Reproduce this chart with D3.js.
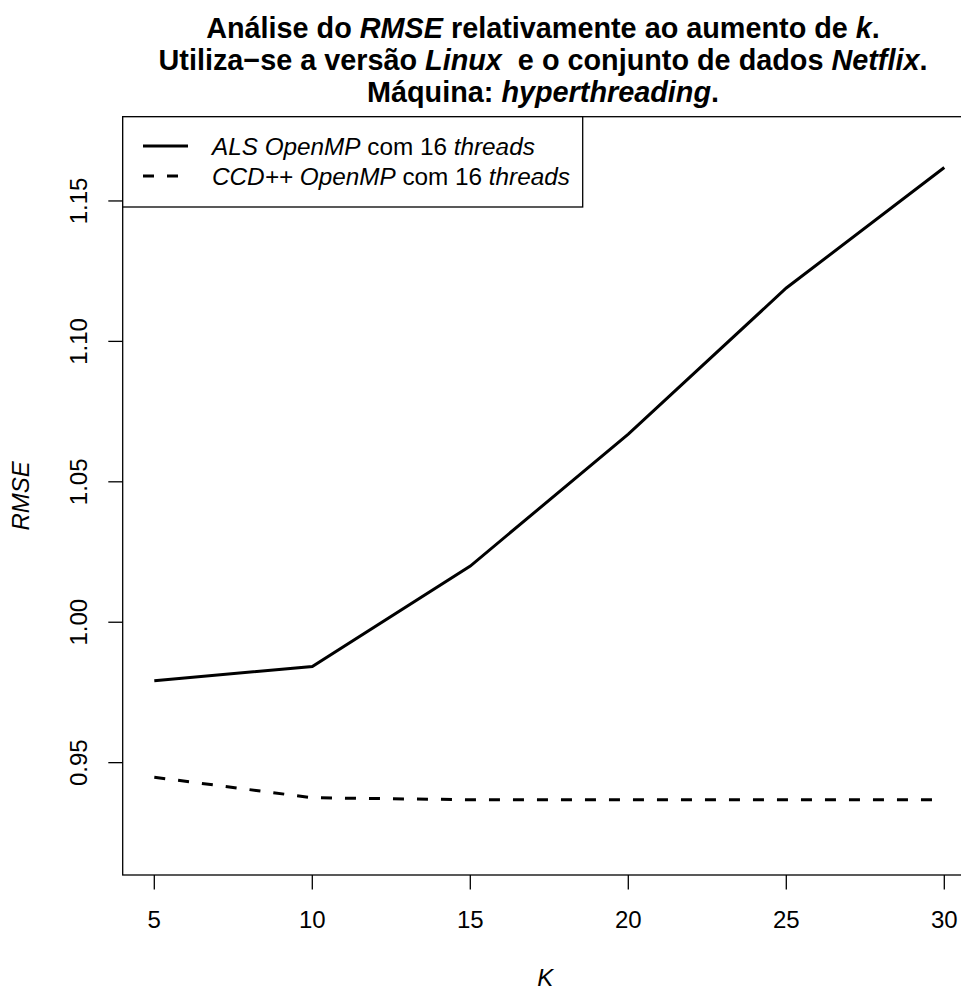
<!DOCTYPE html>
<html>
<head>
<meta charset="utf-8">
<script src="https://cdn.jsdelivr.net/npm/d3@7"></script>
<style>
  body { margin: 0; background: #fff; }
  svg { font-family: "Liberation Sans", Arial, sans-serif; }
  text { white-space: pre; }
</style>
</head>
<body>
<div id="chart"></div>
<script>
const width = 961;
const height = 990;

// values
const kValues = [5, 10, 15, 20, 25, 30];
const alsRmse = [0.9792, 0.9842, 1.0200, 1.0670, 1.1190, 1.1619];
const ccdRmse = [0.9448, 0.9375, 0.9368, 0.9368, 0.9368, 0.9368];
const xTicks = [5, 10, 15, 20, 25, 30];
const yTicks = [0.95, 1.00, 1.05, 1.10, 1.15];

// plot region (R style: box extends past the canvas on the right)
const plotLeft = 122.7, plotTop = 116.7, plotBottom = 875;
const xScale = d3.scaleLinear().domain([4, 31]).range([plotLeft, plotLeft + 27 * 31.6]);
const yScale = d3.scaleLinear().domain([0.91, 1.18]).range([plotBottom, plotTop]);
const plotRight = xScale.range()[1];

const svg = d3.select("#chart")
    .append("svg")
    .attr("width", width)
    .attr("height", height);

svg.append("rect")
    .attr("width", width)
    .attr("height", height)
    .attr("fill", "#fff");

// title lines, mixed regular / italic
const titleLines = [
    [["Análise do ", false], ["RMSE", true], [" relativamente ao aumento de ", false], ["k", true], [".", false]],
    [["Utiliza\u2212se a versão ", false], ["Linux", true], ["  e o conjunto de dados ", false], ["Netflix", true], [".", false]],
    [["Máquina: ", false], ["hyperthreading", true], [".", false]]
];
titleLines.forEach((parts, i) => {
    const t = svg.append("text")
        .attr("x", 543)
        .attr("y", 38 + i * 32)
        .attr("text-anchor", "middle")
        .attr("font-size", "28.8px")
        .attr("font-weight", "bold");
    parts.forEach(p => {
        t.append("tspan")
            .attr("font-style", p[1] ? "italic" : "normal")
            .text(p[0]);
    });
});

// axes
const xAxis = svg.append("g");
xAxis.selectAll("line")
    .data(xTicks)
    .enter()
    .append("line")
    .attr("x1", d => xScale(d))
    .attr("x2", d => xScale(d))
    .attr("y1", plotBottom)
    .attr("y2", plotBottom + 14.4)
    .attr("stroke", "#000")
    .attr("stroke-width", 1.3);
xAxis.selectAll("text")
    .data(xTicks)
    .enter()
    .append("text")
    .attr("x", d => xScale(d))
    .attr("y", 928)
    .attr("text-anchor", "middle")
    .attr("font-size", "24px")
    .text(d => d);

const yAxis = svg.append("g");
yAxis.selectAll("line")
    .data(yTicks)
    .enter()
    .append("line")
    .attr("x1", plotLeft - 14.4)
    .attr("x2", plotLeft)
    .attr("y1", d => yScale(d))
    .attr("y2", d => yScale(d))
    .attr("stroke", "#000")
    .attr("stroke-width", 1.3);
yAxis.selectAll("text")
    .data(yTicks)
    .enter()
    .append("text")
    .attr("transform", d => `translate(87, ${yScale(d)}) rotate(-90)`)
    .attr("text-anchor", "middle")
    .attr("font-size", "24px")
    .text(d => d.toFixed(2));

// axis titles
svg.append("text")
    .attr("x", (plotLeft + plotRight) / 2 - 4)
    .attr("y", 986)
    .attr("text-anchor", "middle")
    .attr("font-size", "24px")
    .attr("font-style", "italic")
    .text("K");

svg.append("text")
    .attr("transform", `translate(29, ${(plotTop + plotBottom) / 2}) rotate(-90)`)
    .attr("text-anchor", "middle")
    .attr("font-size", "24px")
    .attr("font-style", "italic")
    .text("RMSE");

// series
const line = d3.line()
    .x(d => xScale(d[0]))
    .y(d => yScale(d[1]));

svg.append("path")
    .datum(kValues.map((k, i) => [k, alsRmse[i]]))
    .attr("d", line)
    .attr("fill", "none")
    .attr("stroke", "#000")
    .attr("stroke-width", 3);

svg.append("path")
    .datum(kValues.map((k, i) => [k, ccdRmse[i]]))
    .attr("d", line)
    .attr("fill", "none")
    .attr("stroke", "#000")
    .attr("stroke-width", 3)
    .attr("stroke-dasharray", "11,13");

// plot box
svg.append("rect")
    .attr("x", plotLeft)
    .attr("y", plotTop)
    .attr("width", plotRight - plotLeft)
    .attr("height", plotBottom - plotTop)
    .attr("fill", "none")
    .attr("stroke", "#000")
    .attr("stroke-width", 1.3);

// legend
const legend = svg.append("g");
legend.append("rect")
    .attr("x", plotLeft)
    .attr("y", plotTop)
    .attr("width", 582.7 - plotLeft)
    .attr("height", 207 - plotTop)
    .attr("fill", "#fff")
    .attr("stroke", "#000")
    .attr("stroke-width", 1.3);

const legendItems = [
    { parts: [["ALS OpenMP", true], [" com 16 ", false], ["threads", true]], dash: null },
    { parts: [["CCD++ OpenMP", true], [" com 16 ", false], ["threads", true]], dash: "11,13" }
];
legendItems.forEach((item, i) => {
    const y = 146 + i * 30;
    legend.append("line")
        .attr("x1", 143)
        .attr("x2", 188)
        .attr("y1", y)
        .attr("y2", y)
        .attr("stroke", "#000")
        .attr("stroke-width", 3)
        .attr("stroke-dasharray", item.dash);
    const t = legend.append("text")
        .attr("x", 212)
        .attr("y", y + 8.5)
        .attr("font-size", "24.3px");
    item.parts.forEach(p => {
        t.append("tspan")
            .attr("font-style", p[1] ? "italic" : "normal")
            .text(p[0]);
    });
});
</script>
</body>
</html>
